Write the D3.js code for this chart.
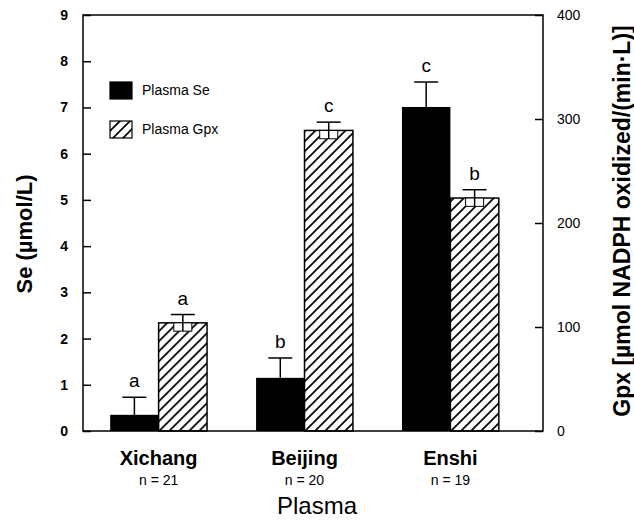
<!DOCTYPE html>
<html lang="en">
<head>
<meta charset="UTF-8">
<script src="https://d3js.org/d3.v7.min.js"></script>
<style>
  body { margin: 0; background: #fff; }
  svg { font-family: "Liberation Sans", Arial, sans-serif; }
</style>
</head>
<body>
<div id="chart"></div>
<script>
// Data
const sites = ["Xichang", "Beijing", "Enshi"];
const nLabels = ["n = 21", "n = 20", "n = 19"];
const seMean = [0.35, 1.15, 7.01];
const seErr = [0.38, 0.43, 0.54];
const gpxMean = [104, 289, 224];
const gpxErr = [8, 8, 8];
const seLetters = ["a", "b", "c"];
const gpxLetters = ["a", "c", "b"];
const seTicks = [0, 1, 2, 3, 4, 5, 6, 7, 8, 9];
const gpxTicks = [0, 100, 200, 300, 400];
const series = ["Plasma Se", "Plasma Gpx"];

const width = 634, height = 520;
const box = { left: 83, right: 543, top: 15, bottom: 431 };

const svg = d3.select("#chart").append("svg")
    .attr("width", width)
    .attr("height", height);

// hatch pattern
svg.append("defs").append("pattern")
    .attr("id", "hatch")
    .attr("patternUnits", "userSpaceOnUse")
    .attr("width", 10).attr("height", 10)
    .append("path")
    .attr("d", "M-2,12 L12,-2 M-7,7 L7,-7 M3,17 L17,3")
    .attr("stroke", "#000")
    .attr("stroke-width", 1.7);

// Scales
const x = d3.scaleBand()
    .domain(sites)
    .range([81, 528])
    .paddingInner(0.336)
    .paddingOuter(0.2);

const xs = d3.scaleBand()
    .domain(series)
    .range([0, x.bandwidth()]);

const ySe = d3.scaleLinear().domain([0, 9]).range([box.bottom, box.top]);
const yGpx = d3.scaleLinear().domain([0, 400]).range([box.bottom, box.top]);

const rows = sites.map((s, i) => ({
    site: s, n: nLabels[i],
    se: seMean[i], seErr: seErr[i], seLab: seLetters[i],
    gpx: gpxMean[i], gpxErr: gpxErr[i], gpxLab: gpxLetters[i]
}));

// Bars
const g = svg.append("g");
const grp = g.selectAll("g.site")
    .data(rows)
    .join("g")
    .attr("class", "site")
    .attr("transform", d => `translate(${x(d.site)},0)`);

grp.append("rect")
    .attr("x", xs("Plasma Se"))
    .attr("y", d => ySe(d.se))
    .attr("width", xs.bandwidth())
    .attr("height", d => ySe(0) - ySe(d.se))
    .attr("fill", "#000");

grp.append("rect")
    .attr("x", xs("Plasma Gpx"))
    .attr("y", d => yGpx(d.gpx))
    .attr("width", xs.bandwidth())
    .attr("height", d => yGpx(0) - yGpx(d.gpx))
    .attr("fill", "url(#hatch)")
    .attr("stroke", "#000")
    .attr("stroke-width", 1.5);

// Error bars Se (upper only)
const capW = 24;
const seC = xs("Plasma Se") + xs.bandwidth() / 2;
grp.append("line")
    .attr("x1", seC).attr("x2", seC)
    .attr("y1", d => ySe(d.se))
    .attr("y2", d => ySe(d.se + d.seErr))
    .attr("stroke", "#000").attr("stroke-width", 1.5);
grp.append("line")
    .attr("x1", seC - capW / 2).attr("x2", seC + capW / 2)
    .attr("y1", d => ySe(d.se + d.seErr))
    .attr("y2", d => ySe(d.se + d.seErr))
    .attr("stroke", "#000").attr("stroke-width", 1.5);
grp.append("text")
    .attr("x", seC)
    .attr("y", d => ySe(d.se + d.seErr) - 10)
    .attr("text-anchor", "middle")
    .attr("font-size", 19)
    .text(d => d.seLab);

// Error bars Gpx
const gC = xs("Plasma Gpx") + xs.bandwidth() / 2;
grp.append("rect")
    .attr("x", gC - 9)
    .attr("y", d => yGpx(d.gpx))
    .attr("width", 18)
    .attr("height", d => yGpx(d.gpx - d.gpxErr) - yGpx(d.gpx))
    .attr("fill", "#fff")
    .attr("stroke", "#000").attr("stroke-width", 1);
grp.append("line")
    .attr("x1", gC).attr("x2", gC)
    .attr("y1", d => yGpx(d.gpx - d.gpxErr))
    .attr("y2", d => yGpx(d.gpx + d.gpxErr))
    .attr("stroke", "#000").attr("stroke-width", 1.5);
grp.append("line")
    .attr("x1", gC - capW / 2).attr("x2", gC + capW / 2)
    .attr("y1", d => yGpx(d.gpx + d.gpxErr))
    .attr("y2", d => yGpx(d.gpx + d.gpxErr))
    .attr("stroke", "#000").attr("stroke-width", 1.5);
grp.append("text")
    .attr("x", gC)
    .attr("y", d => yGpx(d.gpx + d.gpxErr) - 10)
    .attr("text-anchor", "middle")
    .attr("font-size", 19)
    .text(d => d.gpxLab);

// Frame
svg.append("rect")
    .attr("x", box.left).attr("y", box.top)
    .attr("width", box.right - box.left)
    .attr("height", box.bottom - box.top)
    .attr("fill", "none")
    .attr("stroke", "#000")
    .attr("stroke-width", 1.5);

// Axes
const axL = svg.append("g")
    .attr("transform", `translate(${box.left},0)`)
    .call(d3.axisLeft(ySe).tickValues(seTicks).tickSizeInner(-8).tickSizeOuter(0).tickPadding(15));
axL.selectAll("text").attr("font-size", 14).attr("font-weight", "bold").attr("font-family", null);

const axR = svg.append("g")
    .attr("transform", `translate(${box.right},0)`)
    .call(d3.axisRight(yGpx).tickValues(gpxTicks).tickSizeInner(-8).tickSizeOuter(0).tickPadding(14));
axR.selectAll("text").attr("font-size", 14).attr("font-family", null);

svg.selectAll(".domain").remove();
svg.selectAll(".tick line").attr("stroke-width", 1.5);

// Category labels
const lab = svg.append("g").selectAll("g")
    .data(rows)
    .join("g")
    .attr("transform", d => `translate(${x(d.site) + x.bandwidth() / 2},0)`);
lab.append("text")
    .attr("y", 465)
    .attr("text-anchor", "middle")
    .attr("font-size", 20)
    .attr("font-weight", "bold")
    .text(d => d.site);
lab.append("text")
    .attr("y", 485)
    .attr("text-anchor", "middle")
    .attr("font-size", 14)
    .text(d => d.n);

svg.append("text")
    .attr("x", 317).attr("y", 514)
    .attr("text-anchor", "middle")
    .attr("font-size", 24)
    .text("Plasma");

// Axis titles
svg.append("text")
    .attr("transform", "translate(32,234) rotate(-90)")
    .attr("text-anchor", "middle")
    .attr("font-size", 22)
    .attr("font-weight", "bold")
    .text("Se (µmol/L)");

svg.append("text")
    .attr("transform", "translate(630,221) rotate(-90)")
    .attr("text-anchor", "middle")
    .attr("font-size", 23)
    .attr("font-weight", "bold")
    .text("Gpx [µmol NADPH oxidized/(min·L)]");

// Legend
const leg = svg.append("g").selectAll("g")
    .data(series)
    .join("g")
    .attr("transform", (d, i) => `translate(110,${82 + i * 39})`);
leg.append("rect")
    .attr("width", 22).attr("height", 17)
    .attr("fill", (d, i) => i === 0 ? "#000" : "url(#hatch)")
    .attr("stroke", "#000")
    .attr("stroke-width", 1.2);
leg.append("text")
    .attr("x", 32).attr("y", 13)
    .attr("font-size", 14)
    .text(d => d);
</script>
</body>
</html>
